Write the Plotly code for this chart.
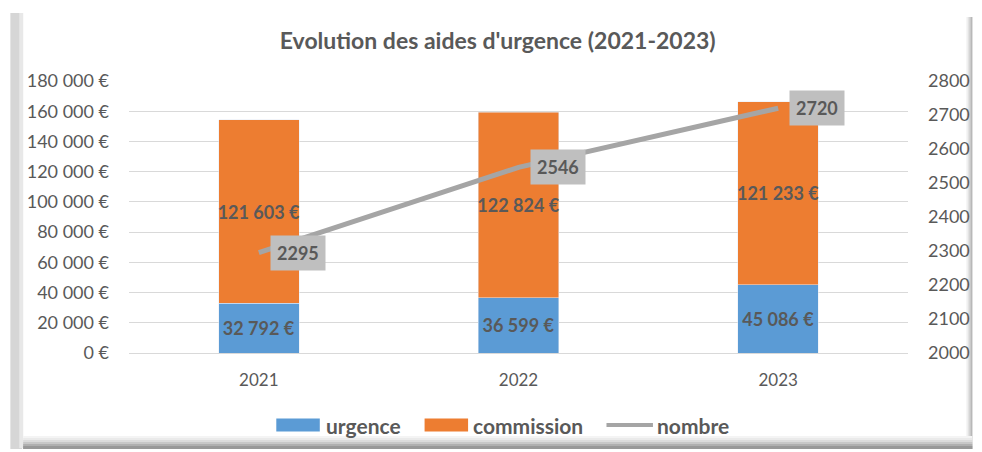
import plotly.graph_objects as go

years = ["2021", "2022", "2023"]
urgence = [32792, 36599, 45086]
commission = [121603, 122824, 121233]
nombre = [2295, 2546, 2720]

left_ticks = list(range(0, 180001, 20000))
right_ticks = list(range(2000, 2801, 100))

# the page body has an 8px margin: the figure is drawn from (8, 8)
OFF = 8
W, H = 982 - OFF, 452 - OFF
ML, MR, MT, MB = 129 - OFF, 65, 81 - OFF, 99
PW, PH = W - ML - MR, H - MT - MB

TXT = "#595959"
FONT = "Lato"


def eur(v):
    return f"{v:,}".replace(",", "\u00a0") + " €"


def px(x):
    return (x - OFF - ML) / PW


def py(y):
    return (H - MB - (y - OFF)) / PH


fig = go.Figure()
fig.add_trace(go.Bar(
    x=years, y=urgence, name="urgence", marker_color="#5B9BD5",
    width=0.31, text=[f"<b>{eur(v)}</b>" for v in urgence], textposition="inside",
    insidetextanchor="middle", textangle=0, constraintext="none",
    textfont=dict(family=FONT, size=18, color=TXT),
    showlegend=False,
))
fig.add_trace(go.Bar(
    x=years, y=commission, name="commission", marker_color="#ED7D31",
    width=0.31, text=[f"<b>{eur(v)}</b>" for v in commission], textposition="inside",
    insidetextanchor="middle", textangle=0, constraintext="none",
    textfont=dict(family=FONT, size=18, color=TXT),
    showlegend=False,
))
fig.add_trace(go.Scatter(
    x=years, y=nombre, name="nombre", mode="lines", yaxis="y2",
    line=dict(color="#A5A5A5", width=5), showlegend=False,
))

annotations = []
for i, n in enumerate(nombre):
    annotations.append(dict(
        x=i, y=n, xref="x", yref="y2", text=f"<b>{n}</b>", showarrow=False,
        xanchor="left", yanchor="middle", xshift=11,
        bgcolor="#BFBFBF", borderpad=6,
        font=dict(family=FONT, size=18, color=TXT),
    ))

# custom legend
legend_items = [
    ("urgence", "#5B9BD5", "bar", 278, 322, 326),
    ("commission", "#ED7D31", "bar", 428, 472, 475),
    ("nombre", "#A5A5A5", "line", 612, 659, 661),
]
shapes = []
# frame decoration
shapes.append(dict(type="rect", xref="paper", yref="paper", x0=px(9), x1=px(21), y0=py(452), y1=py(13),
                   fillcolor="#D6D6D6", line_width=0, layer="below"))
shapes.append(dict(type="rect", xref="paper", yref="paper", x0=px(18), x1=px(22), y0=py(448), y1=py(13),
                   fillcolor="#E8E8E8", line_width=0, layer="below"))
for i, c in enumerate(["#F2F2F2", "#E2E2E2", "#CFCFCF", "#B8B8B8"]):
    shapes.append(dict(type="rect", xref="paper", yref="paper", x0=px(976 + i * 1.5), x1=px(982),
                       y0=py(449), y1=py(17), fillcolor=c, line_width=0, layer="below"))
for i, c in enumerate(["#F4F4F4", "#EAEAEA", "#DCDCDC", "#C8C8C8", "#B0B0B0", "#999999"]):
    shapes.append(dict(type="rect", xref="paper", yref="paper", x0=px(22), x1=px(982),
                       y0=py(449), y1=py(436 + i * 2), fillcolor=c, line_width=0, layer="below"))
shapes.append(dict(type="rect", xref="paper", yref="paper", x0=px(0), x1=px(982),
                   y0=py(452), y1=py(449), fillcolor="white", line_width=0, layer="below"))

ly = 425
for name, color, kind, x0, x1, tx in legend_items:
    if kind == "bar":
        shapes.append(dict(type="rect", xref="paper", yref="paper", x0=px(x0), x1=px(x1),
                           y0=py(ly + 6.5), y1=py(ly - 6.5), fillcolor=color, line_width=0))
    else:
        shapes.append(dict(type="line", xref="paper", yref="paper", x0=px(x0), x1=px(x1),
                           y0=py(ly), y1=py(ly), line=dict(color=color, width=4)))
    annotations.append(dict(x=px(tx), y=py(ly), xref="paper", yref="paper", text=f"<b>{name}</b>",
                            showarrow=False, xanchor="left", yanchor="middle",
                            font=dict(family=FONT, size=21, color=TXT)))

fig.update_layout(
    width=W, height=H,
    margin=dict(l=ML, r=MR, t=MT, b=MB),
    paper_bgcolor="white", plot_bgcolor="white",
    barmode="stack",
    title=dict(text="<b>Evolution des aides d'urgence (2021-2023)</b>", x=px(502), xref="paper",
               xanchor="center", y=1 - (41 - OFF) / H, yanchor="middle",
               font=dict(family=FONT, size=23, color=TXT)),
    font=dict(family=FONT, color=TXT, size=17),
    xaxis=dict(type="category", range=[-0.5, 2.5], showgrid=False, showline=True, linecolor="#D9D9D9",
               ticks="", tickfont=dict(size=17, color=TXT), ticklabelstandoff=12),
    yaxis=dict(range=[0, 180000], tickvals=left_ticks, ticktext=[eur(v) for v in left_ticks],
               showgrid=True, gridcolor="#D9D9D9", gridwidth=1, zeroline=False,
               tickfont=dict(size=18, color=TXT), ticklabelstandoff=19, showline=False),
    yaxis2=dict(range=[2000, 2800], tickvals=right_ticks, overlaying="y", side="right",
                showgrid=False, zeroline=False, showline=False,
                tickfont=dict(size=18, color=TXT), ticklabelstandoff=19),
    shapes=shapes,
    annotations=annotations,
)

fig.write_html("out.html")
